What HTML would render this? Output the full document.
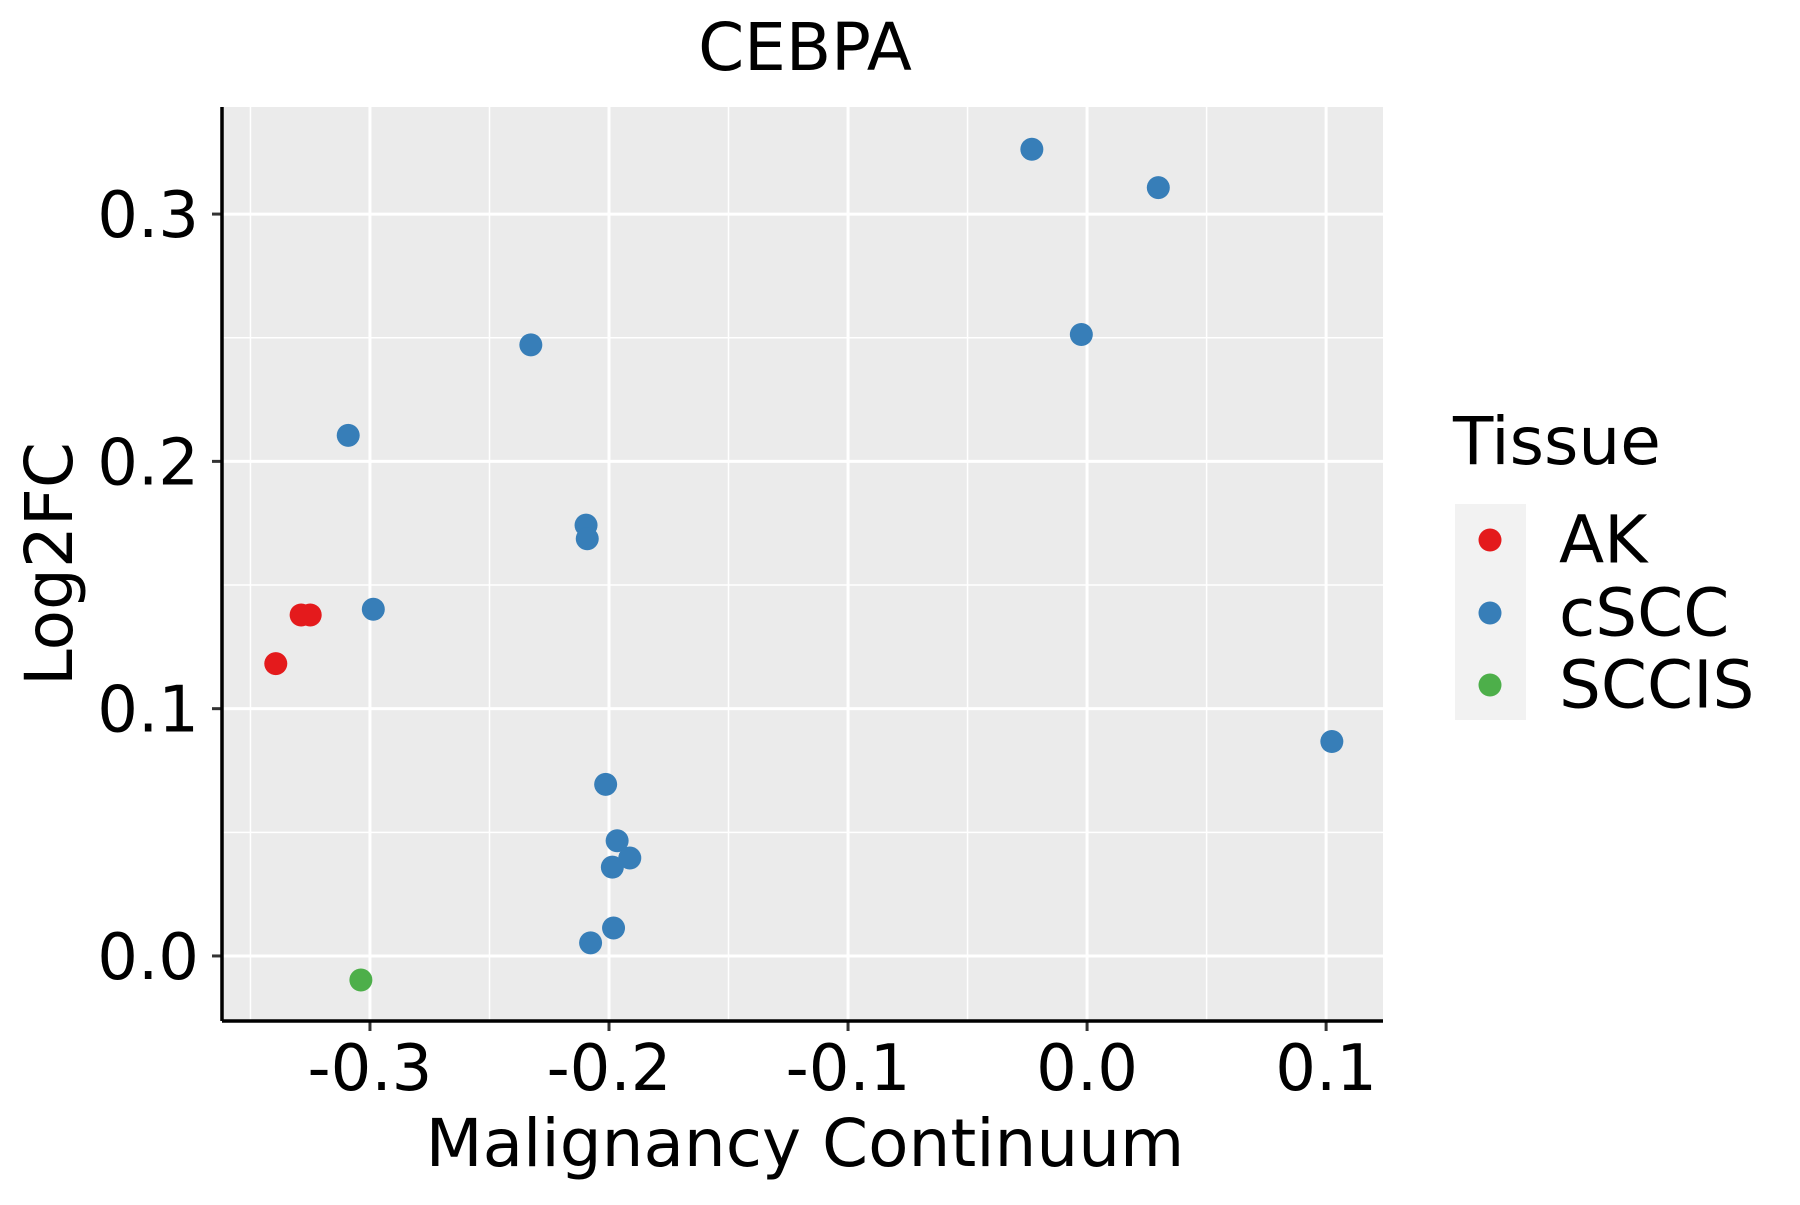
<!DOCTYPE html>
<html><head><meta charset="utf-8"><style>
body{margin:0;background:#fff;}
svg text{font-family:"DejaVu Sans","Liberation Sans",sans-serif;fill:#000;}
</style></head><body>
<svg id="chart" width="1800" height="1200" viewBox="0 0 1800 1200" xmlns="http://www.w3.org/2000/svg">
<rect width="1800" height="1200" fill="#fff"/>
<text x="805" y="70" font-size="66" text-anchor="middle">CEBPA</text>
<rect x="222" y="107" width="1161" height="914" fill="#EBEBEB"/>
<g id="grid"></g>
<g id="points"></g>
<g id="axes"></g>
<text x="805" y="1166" font-size="66" text-anchor="middle">Malignancy Continuum</text>
<text transform="translate(72,564) rotate(-90)" font-size="66" text-anchor="middle">Log2FC</text>
<g>
<text x="1453" y="464" font-size="66">Tissue</text>
<rect x="1455" y="504" width="71" height="216" fill="#F2F2F2"/>
<circle cx="1490" cy="540" r="11.5" fill="#E41A1C"/>
<circle cx="1490" cy="613" r="11.5" fill="#377EB8"/>
<circle cx="1490" cy="685" r="11.5" fill="#4DAF4A"/>
<text x="1559" y="540" font-size="66" dominant-baseline="central">AK</text>
<text x="1559" y="613" font-size="66" dominant-baseline="central">cSCC</text>
<text x="1559" y="685" font-size="66" dominant-baseline="central">SCCIS</text>
</g>
</svg>
<script>
const xTicks = [-0.3, -0.2, -0.1, 0.0, 0.1];
const xTickLabels = ["-0.3", "-0.2", "-0.1", "0.0", "0.1"];
const yTicks = [0.0, 0.1, 0.2, 0.3];
const yTickLabels = ["0.0", "0.1", "0.2", "0.3"];
const xMinor = [-0.35, -0.25, -0.15, -0.05, 0.05];
const yMinor = [0.05, 0.15, 0.25];
const tissue = ["AK","AK","AK","cSCC","cSCC","cSCC","cSCC","cSCC","cSCC","cSCC","cSCC","cSCC","cSCC","cSCC","cSCC","cSCC","cSCC","cSCC","SCCIS"];
const xVals = [-0.3394,-0.3288,-0.325,-0.0231,0.0298,-0.0024,-0.2327,-0.3091,-0.2096,-0.2091,-0.2986,0.1024,-0.2014,-0.1966,-0.1913,-0.1986,-0.1981,-0.2077,-0.3038];
const yVals = [0.1182,0.1379,0.1379,0.3262,0.3107,0.2513,0.2471,0.2105,0.1742,0.1687,0.1402,0.0867,0.0694,0.0466,0.0396,0.0359,0.0113,0.0053,-0.0097];
const colors = {AK:"#E41A1C", cSCC:"#377EB8", SCCIS:"#4DAF4A"};

const NS = "http://www.w3.org/2000/svg";
const L=222,R=1383,T=107,B=1021;
const xMin=-0.3619,xMax=0.1238,yMin=-0.0263,yMax=0.3433;
function sx(v){return L+(v-xMin)/(xMax-xMin)*(R-L);}
function sy(v){return B-(v-yMin)/(yMax-yMin)*(B-T);}
function mk(tag,attrs,parent){const e=document.createElementNS(NS,tag);for(const k in attrs)e.setAttribute(k,attrs[k]);parent.appendChild(e);return e;}
const grid=document.getElementById('grid'),pts=document.getElementById('points'),axes=document.getElementById('axes');
xMinor.forEach(v=>{const e=mk('line',{x1:sx(v),x2:sx(v),y1:T,y2:B,stroke:'#fff','stroke-width':1.5},grid);

});
yMinor.forEach(v=>{const e=mk('line',{x1:L,x2:R,y1:sy(v),y2:sy(v),stroke:'#fff','stroke-width':1.5},grid);

});
xTicks.forEach((v,i)=>{const e=mk('line',{x1:sx(v),x2:sx(v),y1:T,y2:B,stroke:'#fff','stroke-width':3},grid);


const t=mk('line',{x1:sx(v),x2:sx(v),y1:B,y2:B+10,stroke:'#333','stroke-width':3},axes);


const tx=mk('text',{x:sx(v),y:1090,'font-size':64,'text-anchor':'middle'},axes);tx.textContent=xTickLabels[i];

});
yTicks.forEach((v,i)=>{const e=mk('line',{x1:L,x2:R,y1:sy(v),y2:sy(v),stroke:'#fff','stroke-width':3},grid);


const t=mk('line',{x1:L-10,x2:L,y1:sy(v),y2:sy(v),stroke:'#333','stroke-width':3},axes);


const tx=mk('text',{x:199,y:sy(v)+23,'font-size':64,'text-anchor':'end'},axes);tx.textContent=yTickLabels[i];

});
xVals.forEach((v,i)=>{const c=mk('circle',{cx:sx(v),cy:sy(yVals[i]),r:11.5,fill:colors[tissue[i]]},pts);

});
const xa=mk('line',{x1:L,x2:R,y1:B,y2:B,stroke:'#000','stroke-width':3.5},axes);


const ya=mk('line',{x1:L,x2:L,y1:T,y2:B,stroke:'#000','stroke-width':3.5},axes);


</script>
</body></html>
